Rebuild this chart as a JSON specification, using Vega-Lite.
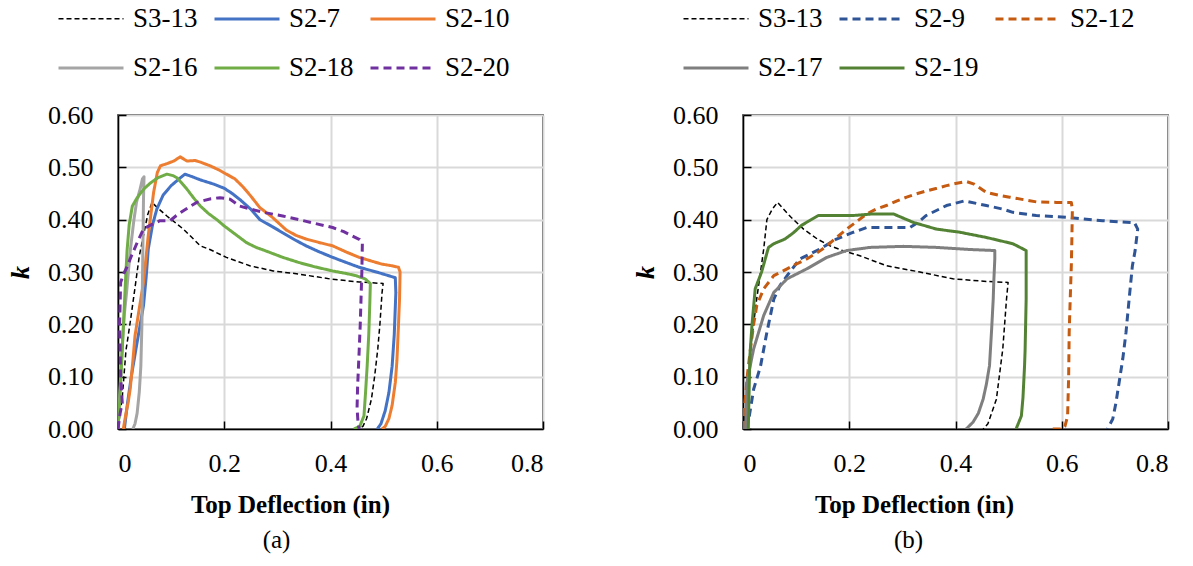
{
  "$schema": "https://vega.github.io/schema/vega-lite/v6.json",
  "background": "white",
  "padding": {"left": 6, "top": -16, "right": 5, "bottom": 5},
  "config": {
    "font": "Times New Roman",
    "view": {"stroke": "#000000", "strokeWidth": 1.5},
    "axis": {
      "gridColor": "#D9D9D9", "gridWidth": 2, "domainColor": "#000000", "domainWidth": 1.5,
      "tickColor": "#000000", "tickSize": -8, "tickWidth": 1.5,
      "labelFont": "Times New Roman", "labelFontSize": 26, "labelColor": "#000000",
      "titleFont": "Times New Roman", "titleColor": "#000000"
    },
    "legend": {
      "orient": "none", "legendX": -61, "legendY": -130, "columns": 3, "direction": "horizontal",
      "symbolType": "stroke", "symbolSize": 4225, "labelFont": "Times New Roman", "labelFontSize": 27,
      "labelColor": "#000000", "labelOffset": 8, "columnPadding": 10, "rowPadding": 2, "title": null
    },
    "title": {"font": "Times New Roman", "fontSize": 25, "fontWeight": "normal", "color": "#000000"}
  },
  "datasets": {
    "a": [
      {"s":"S3-13","i":0,"x":0.000,"y":0.000},{"s":"S3-13","i":1,"x":0.008,"y":0.06},{"s":"S3-13","i":2,"x":0.015,"y":0.15},{"s":"S3-13","i":3,"x":0.023,"y":0.204},{"s":"S3-13","i":4,"x":0.032,"y":0.27},{"s":"S3-13","i":5,"x":0.040,"y":0.33},{"s":"S3-13","i":6,"x":0.048,"y":0.37},{"s":"S3-13","i":7,"x":0.056,"y":0.41},{"s":"S3-13","i":8,"x":0.064,"y":0.433},{"s":"S3-13","i":9,"x":0.075,"y":0.422},{"s":"S3-13","i":10,"x":0.092,"y":0.407},{"s":"S3-13","i":11,"x":0.123,"y":0.382},{"s":"S3-13","i":12,"x":0.155,"y":0.35},{"s":"S3-13","i":13,"x":0.173,"y":0.343},{"s":"S3-13","i":14,"x":0.204,"y":0.328},{"s":"S3-13","i":15,"x":0.248,"y":0.312},{"s":"S3-13","i":16,"x":0.292,"y":0.302},{"s":"S3-13","i":17,"x":0.341,"y":0.296},{"s":"S3-13","i":18,"x":0.404,"y":0.286},{"s":"S3-13","i":19,"x":0.454,"y":0.281},{"s":"S3-13","i":20,"x":0.499,"y":0.278},{"s":"S3-13","i":21,"x":0.497,"y":0.26},{"s":"S3-13","i":22,"x":0.493,"y":0.2},{"s":"S3-13","i":23,"x":0.489,"y":0.153},{"s":"S3-13","i":24,"x":0.483,"y":0.1},{"s":"S3-13","i":25,"x":0.477,"y":0.057},{"s":"S3-13","i":26,"x":0.468,"y":0.02},{"s":"S3-13","i":27,"x":0.461,"y":0.005},{"s":"S3-13","i":28,"x":0.452,"y":0.0},
      {"s":"S2-7","i":0,"x":0.012,"y":0.0},{"s":"S2-7","i":1,"x":0.018,"y":0.05},{"s":"S2-7","i":2,"x":0.025,"y":0.1},{"s":"S2-7","i":3,"x":0.035,"y":0.16},{"s":"S2-7","i":4,"x":0.048,"y":0.236},{"s":"S2-7","i":5,"x":0.053,"y":0.29},{"s":"S2-7","i":6,"x":0.057,"y":0.344},{"s":"S2-7","i":7,"x":0.065,"y":0.39},{"s":"S2-7","i":8,"x":0.073,"y":0.42},{"s":"S2-7","i":9,"x":0.085,"y":0.447},{"s":"S2-7","i":10,"x":0.1,"y":0.465},{"s":"S2-7","i":11,"x":0.115,"y":0.478},{"s":"S2-7","i":12,"x":0.126,"y":0.487},{"s":"S2-7","i":13,"x":0.14,"y":0.482},{"s":"S2-7","i":14,"x":0.155,"y":0.476},{"s":"S2-7","i":15,"x":0.18,"y":0.468},{"s":"S2-7","i":16,"x":0.2,"y":0.46},{"s":"S2-7","i":17,"x":0.215,"y":0.45},{"s":"S2-7","i":18,"x":0.23,"y":0.438},{"s":"S2-7","i":19,"x":0.25,"y":0.42},{"s":"S2-7","i":20,"x":0.267,"y":0.40},{"s":"S2-7","i":21,"x":0.29,"y":0.387},{"s":"S2-7","i":22,"x":0.31,"y":0.375},{"s":"S2-7","i":23,"x":0.33,"y":0.363},{"s":"S2-7","i":24,"x":0.354,"y":0.35},{"s":"S2-7","i":25,"x":0.38,"y":0.338},{"s":"S2-7","i":26,"x":0.404,"y":0.328},{"s":"S2-7","i":27,"x":0.43,"y":0.318},{"s":"S2-7","i":28,"x":0.454,"y":0.309},{"s":"S2-7","i":29,"x":0.49,"y":0.299},{"s":"S2-7","i":30,"x":0.522,"y":0.289},{"s":"S2-7","i":31,"x":0.523,"y":0.26},{"s":"S2-7","i":32,"x":0.52,"y":0.18},{"s":"S2-7","i":33,"x":0.516,"y":0.12},{"s":"S2-7","i":34,"x":0.51,"y":0.07},{"s":"S2-7","i":35,"x":0.503,"y":0.035},{"s":"S2-7","i":36,"x":0.495,"y":0.01},{"s":"S2-7","i":37,"x":0.488,"y":0.0},
      {"s":"S2-10","i":0,"x":0.01,"y":0.0},{"s":"S2-10","i":1,"x":0.015,"y":0.03},{"s":"S2-10","i":2,"x":0.019,"y":0.05},{"s":"S2-10","i":3,"x":0.023,"y":0.077},{"s":"S2-10","i":4,"x":0.028,"y":0.13},{"s":"S2-10","i":5,"x":0.032,"y":0.178},{"s":"S2-10","i":6,"x":0.04,"y":0.23},{"s":"S2-10","i":7,"x":0.048,"y":0.28},{"s":"S2-10","i":8,"x":0.057,"y":0.37},{"s":"S2-10","i":9,"x":0.067,"y":0.452},{"s":"S2-10","i":10,"x":0.074,"y":0.49},{"s":"S2-10","i":11,"x":0.08,"y":0.503},{"s":"S2-10","i":12,"x":0.092,"y":0.507},{"s":"S2-10","i":13,"x":0.105,"y":0.512},{"s":"S2-10","i":14,"x":0.117,"y":0.52},{"s":"S2-10","i":15,"x":0.13,"y":0.512},{"s":"S2-10","i":16,"x":0.145,"y":0.513},{"s":"S2-10","i":17,"x":0.155,"y":0.51},{"s":"S2-10","i":18,"x":0.173,"y":0.503},{"s":"S2-10","i":19,"x":0.19,"y":0.495},{"s":"S2-10","i":20,"x":0.204,"y":0.487},{"s":"S2-10","i":21,"x":0.22,"y":0.478},{"s":"S2-10","i":22,"x":0.235,"y":0.463},{"s":"S2-10","i":23,"x":0.25,"y":0.445},{"s":"S2-10","i":24,"x":0.267,"y":0.423},{"s":"S2-10","i":25,"x":0.29,"y":0.405},{"s":"S2-10","i":26,"x":0.317,"y":0.38},{"s":"S2-10","i":27,"x":0.335,"y":0.37},{"s":"S2-10","i":28,"x":0.354,"y":0.363},{"s":"S2-10","i":29,"x":0.38,"y":0.356},{"s":"S2-10","i":30,"x":0.404,"y":0.35},{"s":"S2-10","i":31,"x":0.43,"y":0.338},{"s":"S2-10","i":32,"x":0.454,"y":0.328},{"s":"S2-10","i":33,"x":0.48,"y":0.32},{"s":"S2-10","i":34,"x":0.497,"y":0.315},{"s":"S2-10","i":35,"x":0.515,"y":0.312},{"s":"S2-10","i":36,"x":0.528,"y":0.309},{"s":"S2-10","i":37,"x":0.531,"y":0.3},{"s":"S2-10","i":38,"x":0.53,"y":0.25},{"s":"S2-10","i":39,"x":0.528,"y":0.2},{"s":"S2-10","i":40,"x":0.525,"y":0.13},{"s":"S2-10","i":41,"x":0.522,"y":0.089},{"s":"S2-10","i":42,"x":0.516,"y":0.045},{"s":"S2-10","i":43,"x":0.51,"y":0.02},{"s":"S2-10","i":44,"x":0.503,"y":0.005},{"s":"S2-10","i":45,"x":0.497,"y":0.0},
      {"s":"S2-16","i":0,"x":0.0,"y":0.0},{"s":"S2-16","i":1,"x":0.004,"y":0.08},{"s":"S2-16","i":2,"x":0.008,"y":0.16},{"s":"S2-16","i":3,"x":0.012,"y":0.22},{"s":"S2-16","i":4,"x":0.016,"y":0.26},{"s":"S2-16","i":5,"x":0.023,"y":0.34},{"s":"S2-16","i":6,"x":0.03,"y":0.4},{"s":"S2-16","i":7,"x":0.035,"y":0.434},{"s":"S2-16","i":8,"x":0.042,"y":0.46},{"s":"S2-16","i":9,"x":0.046,"y":0.478},{"s":"S2-16","i":10,"x":0.049,"y":0.482},{"s":"S2-16","i":11,"x":0.048,"y":0.44},{"s":"S2-16","i":12,"x":0.047,"y":0.36},{"s":"S2-16","i":13,"x":0.046,"y":0.28},{"s":"S2-16","i":14,"x":0.045,"y":0.2},{"s":"S2-16","i":15,"x":0.043,"y":0.12},{"s":"S2-16","i":16,"x":0.04,"y":0.07},{"s":"S2-16","i":17,"x":0.036,"y":0.03},{"s":"S2-16","i":18,"x":0.032,"y":0.01},{"s":"S2-16","i":19,"x":0.028,"y":0.0},
      {"s":"S2-18","i":0,"x":0.0,"y":0.0},{"s":"S2-18","i":1,"x":0.003,"y":0.05},{"s":"S2-18","i":2,"x":0.005,"y":0.09},{"s":"S2-18","i":3,"x":0.008,"y":0.15},{"s":"S2-18","i":4,"x":0.011,"y":0.216},{"s":"S2-18","i":5,"x":0.014,"y":0.28},{"s":"S2-18","i":6,"x":0.017,"y":0.34},{"s":"S2-18","i":7,"x":0.021,"y":0.39},{"s":"S2-18","i":8,"x":0.027,"y":0.426},{"s":"S2-18","i":9,"x":0.035,"y":0.44},{"s":"S2-18","i":10,"x":0.042,"y":0.45},{"s":"S2-18","i":11,"x":0.05,"y":0.46},{"s":"S2-18","i":12,"x":0.061,"y":0.47},{"s":"S2-18","i":13,"x":0.075,"y":0.48},{"s":"S2-18","i":14,"x":0.092,"y":0.487},{"s":"S2-18","i":15,"x":0.104,"y":0.484},{"s":"S2-18","i":16,"x":0.111,"y":0.48},{"s":"S2-18","i":17,"x":0.12,"y":0.47},{"s":"S2-18","i":18,"x":0.13,"y":0.458},{"s":"S2-18","i":19,"x":0.142,"y":0.442},{"s":"S2-18","i":20,"x":0.155,"y":0.426},{"s":"S2-18","i":21,"x":0.17,"y":0.412},{"s":"S2-18","i":22,"x":0.186,"y":0.40},{"s":"S2-18","i":23,"x":0.2,"y":0.388},{"s":"S2-18","i":24,"x":0.217,"y":0.375},{"s":"S2-18","i":25,"x":0.242,"y":0.356},{"s":"S2-18","i":26,"x":0.26,"y":0.347},{"s":"S2-18","i":27,"x":0.279,"y":0.34},{"s":"S2-18","i":28,"x":0.31,"y":0.328},{"s":"S2-18","i":29,"x":0.341,"y":0.318},{"s":"S2-18","i":30,"x":0.37,"y":0.31},{"s":"S2-18","i":31,"x":0.404,"y":0.302},{"s":"S2-18","i":32,"x":0.43,"y":0.297},{"s":"S2-18","i":33,"x":0.448,"y":0.293},{"s":"S2-18","i":34,"x":0.465,"y":0.287},{"s":"S2-18","i":35,"x":0.475,"y":0.278},{"s":"S2-18","i":36,"x":0.474,"y":0.24},{"s":"S2-18","i":37,"x":0.472,"y":0.18},{"s":"S2-18","i":38,"x":0.469,"y":0.12},{"s":"S2-18","i":39,"x":0.466,"y":0.07},{"s":"S2-18","i":40,"x":0.463,"y":0.025},{"s":"S2-18","i":41,"x":0.455,"y":0.005},{"s":"S2-18","i":42,"x":0.444,"y":0.0},
      {"s":"S2-20","i":0,"x":0.0,"y":0.0},{"s":"S2-20","i":1,"x":0.004,"y":0.03},{"s":"S2-20","i":2,"x":0.008,"y":0.05},{"s":"S2-20","i":3,"x":0.005,"y":0.1},{"s":"S2-20","i":4,"x":0.003,"y":0.2},{"s":"S2-20","i":5,"x":0.005,"y":0.28},{"s":"S2-20","i":6,"x":0.01,"y":0.295},{"s":"S2-20","i":7,"x":0.017,"y":0.31},{"s":"S2-20","i":8,"x":0.025,"y":0.33},{"s":"S2-20","i":9,"x":0.036,"y":0.356},{"s":"S2-20","i":10,"x":0.048,"y":0.382},{"s":"S2-20","i":11,"x":0.06,"y":0.389},{"s":"S2-20","i":12,"x":0.079,"y":0.398},{"s":"S2-20","i":13,"x":0.098,"y":0.398},{"s":"S2-20","i":14,"x":0.11,"y":0.408},{"s":"S2-20","i":15,"x":0.123,"y":0.417},{"s":"S2-20","i":16,"x":0.148,"y":0.433},{"s":"S2-20","i":17,"x":0.175,"y":0.44},{"s":"S2-20","i":18,"x":0.192,"y":0.442},{"s":"S2-20","i":19,"x":0.211,"y":0.439},{"s":"S2-20","i":20,"x":0.229,"y":0.426},{"s":"S2-20","i":21,"x":0.25,"y":0.42},{"s":"S2-20","i":22,"x":0.279,"y":0.413},{"s":"S2-20","i":23,"x":0.31,"y":0.407},{"s":"S2-20","i":24,"x":0.341,"y":0.40},{"s":"S2-20","i":25,"x":0.37,"y":0.393},{"s":"S2-20","i":26,"x":0.404,"y":0.385},{"s":"S2-20","i":27,"x":0.425,"y":0.377},{"s":"S2-20","i":28,"x":0.441,"y":0.369},{"s":"S2-20","i":29,"x":0.455,"y":0.362},{"s":"S2-20","i":30,"x":0.46,"y":0.356},{"s":"S2-20","i":31,"x":0.459,"y":0.3},{"s":"S2-20","i":32,"x":0.456,"y":0.2},{"s":"S2-20","i":33,"x":0.454,"y":0.15},{"s":"S2-20","i":34,"x":0.451,"y":0.08},{"s":"S2-20","i":35,"x":0.45,"y":0.04},{"s":"S2-20","i":36,"x":0.452,"y":0.01},{"s":"S2-20","i":37,"x":0.454,"y":0.0}
    ],
    "b": [
      {"s":"S3-13","i":0,"x":0.000,"y":0.000},{"s":"S3-13","i":1,"x":0.008,"y":0.06},{"s":"S3-13","i":2,"x":0.014,"y":0.153},{"s":"S3-13","i":3,"x":0.026,"y":0.25},{"s":"S3-13","i":4,"x":0.033,"y":0.3},{"s":"S3-13","i":5,"x":0.039,"y":0.344},{"s":"S3-13","i":6,"x":0.045,"y":0.40},{"s":"S3-13","i":7,"x":0.055,"y":0.42},{"s":"S3-13","i":8,"x":0.065,"y":0.433},{"s":"S3-13","i":9,"x":0.09,"y":0.405},{"s":"S3-13","i":10,"x":0.114,"y":0.382},{"s":"S3-13","i":11,"x":0.14,"y":0.363},{"s":"S3-13","i":12,"x":0.164,"y":0.35},{"s":"S3-13","i":13,"x":0.19,"y":0.34},{"s":"S3-13","i":14,"x":0.22,"y":0.331},{"s":"S3-13","i":15,"x":0.27,"y":0.312},{"s":"S3-13","i":16,"x":0.333,"y":0.30},{"s":"S3-13","i":17,"x":0.395,"y":0.287},{"s":"S3-13","i":18,"x":0.458,"y":0.282},{"s":"S3-13","i":19,"x":0.499,"y":0.28},{"s":"S3-13","i":20,"x":0.496,"y":0.248},{"s":"S3-13","i":21,"x":0.489,"y":0.153},{"s":"S3-13","i":22,"x":0.477,"y":0.057},{"s":"S3-13","i":23,"x":0.461,"y":0.01},{"s":"S3-13","i":24,"x":0.452,"y":0.0},
      {"s":"S2-9","i":0,"x":0.005,"y":0.0},{"s":"S2-9","i":1,"x":0.011,"y":0.019},{"s":"S2-9","i":2,"x":0.02,"y":0.076},{"s":"S2-9","i":3,"x":0.033,"y":0.12},{"s":"S2-9","i":4,"x":0.045,"y":0.185},{"s":"S2-9","i":5,"x":0.058,"y":0.248},{"s":"S2-9","i":6,"x":0.07,"y":0.275},{"s":"S2-9","i":7,"x":0.083,"y":0.293},{"s":"S2-9","i":8,"x":0.107,"y":0.325},{"s":"S2-9","i":9,"x":0.145,"y":0.344},{"s":"S2-9","i":10,"x":0.176,"y":0.363},{"s":"S2-9","i":11,"x":0.208,"y":0.376},{"s":"S2-9","i":12,"x":0.233,"y":0.385},{"s":"S2-9","i":13,"x":0.27,"y":0.385},{"s":"S2-9","i":14,"x":0.314,"y":0.385},{"s":"S2-9","i":15,"x":0.33,"y":0.395},{"s":"S2-9","i":16,"x":0.345,"y":0.408},{"s":"S2-9","i":17,"x":0.383,"y":0.427},{"s":"S2-9","i":18,"x":0.417,"y":0.436},{"s":"S2-9","i":19,"x":0.458,"y":0.427},{"s":"S2-9","i":20,"x":0.49,"y":0.42},{"s":"S2-9","i":21,"x":0.508,"y":0.414},{"s":"S2-9","i":22,"x":0.552,"y":0.408},{"s":"S2-9","i":23,"x":0.615,"y":0.404},{"s":"S2-9","i":24,"x":0.677,"y":0.398},{"s":"S2-9","i":25,"x":0.737,"y":0.394},{"s":"S2-9","i":26,"x":0.743,"y":0.382},{"s":"S2-9","i":27,"x":0.738,"y":0.34},{"s":"S2-9","i":28,"x":0.733,"y":0.312},{"s":"S2-9","i":29,"x":0.727,"y":0.25},{"s":"S2-9","i":30,"x":0.721,"y":0.185},{"s":"S2-9","i":31,"x":0.715,"y":0.135},{"s":"S2-9","i":32,"x":0.708,"y":0.089},{"s":"S2-9","i":33,"x":0.702,"y":0.05},{"s":"S2-9","i":34,"x":0.696,"y":0.019},{"s":"S2-9","i":35,"x":0.686,"y":0.0},
      {"s":"S2-12","i":0,"x":0.0,"y":0.0},{"s":"S2-12","i":1,"x":0.004,"y":0.057},{"s":"S2-12","i":2,"x":0.009,"y":0.11},{"s":"S2-12","i":3,"x":0.014,"y":0.153},{"s":"S2-12","i":4,"x":0.02,"y":0.2},{"s":"S2-12","i":5,"x":0.026,"y":0.236},{"s":"S2-12","i":6,"x":0.039,"y":0.268},{"s":"S2-12","i":7,"x":0.058,"y":0.293},{"s":"S2-12","i":8,"x":0.083,"y":0.306},{"s":"S2-12","i":9,"x":0.1,"y":0.315},{"s":"S2-12","i":10,"x":0.12,"y":0.325},{"s":"S2-12","i":11,"x":0.14,"y":0.337},{"s":"S2-12","i":12,"x":0.158,"y":0.35},{"s":"S2-12","i":13,"x":0.175,"y":0.365},{"s":"S2-12","i":14,"x":0.195,"y":0.382},{"s":"S2-12","i":15,"x":0.215,"y":0.397},{"s":"S2-12","i":16,"x":0.233,"y":0.411},{"s":"S2-12","i":17,"x":0.25,"y":0.42},{"s":"S2-12","i":18,"x":0.27,"y":0.427},{"s":"S2-12","i":19,"x":0.29,"y":0.436},{"s":"S2-12","i":20,"x":0.308,"y":0.443},{"s":"S2-12","i":21,"x":0.325,"y":0.449},{"s":"S2-12","i":22,"x":0.345,"y":0.455},{"s":"S2-12","i":23,"x":0.365,"y":0.46},{"s":"S2-12","i":24,"x":0.383,"y":0.465},{"s":"S2-12","i":25,"x":0.4,"y":0.469},{"s":"S2-12","i":26,"x":0.42,"y":0.473},{"s":"S2-12","i":27,"x":0.435,"y":0.468},{"s":"S2-12","i":28,"x":0.458,"y":0.452},{"s":"S2-12","i":29,"x":0.48,"y":0.447},{"s":"S2-12","i":30,"x":0.502,"y":0.443},{"s":"S2-12","i":31,"x":0.552,"y":0.434},{"s":"S2-12","i":32,"x":0.59,"y":0.433},{"s":"S2-12","i":33,"x":0.618,"y":0.433},{"s":"S2-12","i":34,"x":0.62,"y":0.42},{"s":"S2-12","i":35,"x":0.619,"y":0.36},{"s":"S2-12","i":36,"x":0.618,"y":0.312},{"s":"S2-12","i":37,"x":0.616,"y":0.25},{"s":"S2-12","i":38,"x":0.614,"y":0.185},{"s":"S2-12","i":39,"x":0.613,"y":0.1},{"s":"S2-12","i":40,"x":0.611,"y":0.025},{"s":"S2-12","i":41,"x":0.606,"y":0.005},{"s":"S2-12","i":42,"x":0.602,"y":0.0},{"s":"S2-12","i":43,"x":0.577,"y":0.0},
      {"s":"S2-17","i":0,"x":0.005,"y":0.0},{"s":"S2-17","i":1,"x":0.0075,"y":0.09},{"s":"S2-17","i":2,"x":0.02,"y":0.153},{"s":"S2-17","i":3,"x":0.039,"y":0.217},{"s":"S2-17","i":4,"x":0.058,"y":0.261},{"s":"S2-17","i":5,"x":0.083,"y":0.287},{"s":"S2-17","i":6,"x":0.12,"y":0.306},{"s":"S2-17","i":7,"x":0.158,"y":0.328},{"s":"S2-17","i":8,"x":0.195,"y":0.341},{"s":"S2-17","i":9,"x":0.239,"y":0.347},{"s":"S2-17","i":10,"x":0.302,"y":0.349},{"s":"S2-17","i":11,"x":0.364,"y":0.347},{"s":"S2-17","i":12,"x":0.427,"y":0.343},{"s":"S2-17","i":13,"x":0.474,"y":0.341},{"s":"S2-17","i":14,"x":0.474,"y":0.325},{"s":"S2-17","i":15,"x":0.472,"y":0.28},{"s":"S2-17","i":16,"x":0.471,"y":0.248},{"s":"S2-17","i":17,"x":0.468,"y":0.19},{"s":"S2-17","i":18,"x":0.464,"y":0.121},{"s":"S2-17","i":19,"x":0.458,"y":0.085},{"s":"S2-17","i":20,"x":0.452,"y":0.057},{"s":"S2-17","i":21,"x":0.443,"y":0.03},{"s":"S2-17","i":22,"x":0.433,"y":0.013},{"s":"S2-17","i":23,"x":0.42,"y":0.0},
      {"s":"S2-19","i":0,"x":0.01,"y":0.0},{"s":"S2-19","i":1,"x":0.011,"y":0.05},{"s":"S2-19","i":2,"x":0.013,"y":0.14},{"s":"S2-19","i":3,"x":0.017,"y":0.2},{"s":"S2-19","i":4,"x":0.023,"y":0.268},{"s":"S2-19","i":5,"x":0.035,"y":0.3},{"s":"S2-19","i":6,"x":0.048,"y":0.347},{"s":"S2-19","i":7,"x":0.058,"y":0.354},{"s":"S2-19","i":8,"x":0.079,"y":0.363},{"s":"S2-19","i":9,"x":0.095,"y":0.375},{"s":"S2-19","i":10,"x":0.11,"y":0.389},{"s":"S2-19","i":11,"x":0.125,"y":0.398},{"s":"S2-19","i":12,"x":0.142,"y":0.408},{"s":"S2-19","i":13,"x":0.164,"y":0.408},{"s":"S2-19","i":14,"x":0.208,"y":0.408},{"s":"S2-19","i":15,"x":0.245,"y":0.411},{"s":"S2-19","i":16,"x":0.283,"y":0.411},{"s":"S2-19","i":17,"x":0.32,"y":0.395},{"s":"S2-19","i":18,"x":0.364,"y":0.382},{"s":"S2-19","i":19,"x":0.408,"y":0.376},{"s":"S2-19","i":20,"x":0.458,"y":0.366},{"s":"S2-19","i":21,"x":0.508,"y":0.354},{"s":"S2-19","i":22,"x":0.533,"y":0.341},{"s":"S2-19","i":23,"x":0.533,"y":0.248},{"s":"S2-19","i":24,"x":0.531,"y":0.15},{"s":"S2-19","i":25,"x":0.53,"y":0.121},{"s":"S2-19","i":26,"x":0.527,"y":0.06},{"s":"S2-19","i":27,"x":0.524,"y":0.025},{"s":"S2-19","i":28,"x":0.514,"y":0.0}
    ]
  },
  "spacing": 86,
  "resolve": {
    "scale": {"color": "independent", "strokeDash": "independent", "strokeWidth": "independent"},
    "legend": {"color": "independent", "strokeDash": "independent", "strokeWidth": "independent"}
  },
  "hconcat": [
    {
      "width": 425, "height": 314,
      "data": {"name": "a"},
      "title": {"text": "(a)", "orient": "bottom", "anchor": "middle", "dx": -54, "offset": 11, "font": "Times New Roman"},
      "mark": {"type": "line", "clip": true, "strokeJoin": "round"},
      "encoding": {
        "x": {"field": "x", "type": "quantitative", "scale": {"domain": [0, 0.8]},
              "axis": {"values": [0, 0.2, 0.4, 0.6, 0.8], "labelExpr": "datum.value == 0 ? '0' : format(datum.value, '.1f')",
                       "labelFont": "Times New Roman", "titleFont": "Times New Roman",
                       "title": "Top Deflection (in)", "titleFontSize": 25, "titleFontWeight": "bold", "labelPadding": 29, "titlePadding": 16, "titleX": 172}},
        "y": {"field": "y", "type": "quantitative", "scale": {"domain": [0, 0.6]},
              "axis": {"values": [0, 0.1, 0.2, 0.3, 0.4, 0.5, 0.6], "format": ".2f", "title": "k",
                       "labelFont": "Times New Roman", "titleFont": "Times New Roman",
                       "titleFontSize": 26, "titleFontStyle": "italic", "titleFontWeight": "bold", "labelPadding": 33, "titlePadding": 14}},
        "order": {"field": "i", "type": "quantitative"},
        "color": {"field": "s", "type": "nominal",
                  "legend": {"labelFont": "Times New Roman"},
                  "scale": {"domain": ["S3-13", "S2-7", "S2-10", "S2-16", "S2-18", "S2-20"],
                            "range": ["#000000", "#4472C4", "#ED7D31", "#A5A5A5", "#70AD47", "#7030A0"]}},
        "strokeDash": {"field": "s", "type": "nominal",
                  "scale": {"domain": ["S3-13", "S2-7", "S2-10", "S2-16", "S2-18", "S2-20"],
                            "range": [[5, 3], [1, 0], [1, 0], [1, 0], [1, 0], [8, 5]]}},
        "strokeWidth": {"field": "s", "type": "nominal",
                  "scale": {"type": "ordinal", "domain": ["S3-13", "S2-7", "S2-10", "S2-16", "S2-18", "S2-20"],
                            "range": [1.5, 3, 3, 3, 3, 3]}}
      }
    },
    {
      "width": 425, "height": 314,
      "data": {"name": "b"},
      "title": {"text": "(b)", "orient": "bottom", "anchor": "middle", "dx": -47, "offset": 11, "font": "Times New Roman"},
      "mark": {"type": "line", "clip": true, "strokeJoin": "round"},
      "encoding": {
        "x": {"field": "x", "type": "quantitative", "scale": {"domain": [0, 0.8]},
              "axis": {"values": [0, 0.2, 0.4, 0.6, 0.8], "labelExpr": "datum.value == 0 ? '0' : format(datum.value, '.1f')",
                       "labelFont": "Times New Roman", "titleFont": "Times New Roman",
                       "title": "Top Deflection (in)", "titleFontSize": 25, "titleFontWeight": "bold", "labelPadding": 29, "titlePadding": 16, "titleX": 171}},
        "y": {"field": "y", "type": "quantitative", "scale": {"domain": [0, 0.6]},
              "axis": {"values": [0, 0.1, 0.2, 0.3, 0.4, 0.5, 0.6], "format": ".2f", "title": "k",
                       "labelFont": "Times New Roman", "titleFont": "Times New Roman",
                       "titleFontSize": 26, "titleFontStyle": "italic", "titleFontWeight": "bold", "labelPadding": 33, "titlePadding": 14}},
        "order": {"field": "i", "type": "quantitative"},
        "color": {"field": "s", "type": "nominal",
                  "legend": {"labelFont": "Times New Roman"},
                  "scale": {"domain": ["S3-13", "S2-9", "S2-12", "S2-17", "S2-19"],
                            "range": ["#000000", "#2F5597", "#C55A11", "#7F7F7F", "#548235"]}},
        "strokeDash": {"field": "s", "type": "nominal",
                  "scale": {"domain": ["S3-13", "S2-9", "S2-12", "S2-17", "S2-19"],
                            "range": [[5, 3], [8, 5], [8, 5], [1, 0], [1, 0]]}},
        "strokeWidth": {"field": "s", "type": "nominal",
                  "scale": {"type": "ordinal", "domain": ["S3-13", "S2-9", "S2-12", "S2-17", "S2-19"],
                            "range": [1.5, 3, 3, 3, 3]}}
      }
    }
  ]
}
